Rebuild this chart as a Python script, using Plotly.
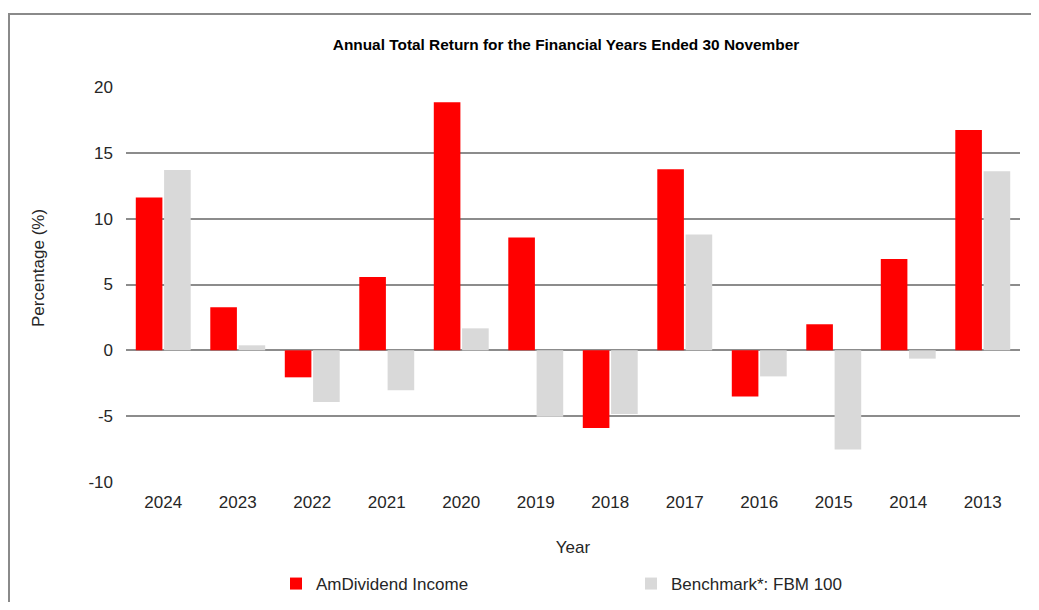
import plotly.graph_objects as go

years = ["2024", "2023", "2022", "2021", "2020", "2019", "2018", "2017", "2016", "2015", "2014", "2013"]
fund = [11.6, 3.27, -2.05, 5.57, 18.84, 8.57, -5.9, 13.76, -3.5, 1.98, 6.94, 16.73]
bench = [13.7, 0.38, -3.93, -3.04, 1.67, -5.05, -4.84, 8.8, -1.98, -7.53, -0.63, 13.61]
y_ticks = [-10, -5, 0, 5, 10, 15, 20]
y_tick_text = ["-10", "-5", "0", "5", "10", "15", "20"]

# page body has an 8px margin; figure sized to fit the 1039x610 window
OFF = 8
W, H = 1039 - 2 * OFF, 610 - 2 * OFF
# plot area in reference-screen pixels
X0, X1, Y0, Y1 = 126, 1020, 87, 482
L, R, T, B = X0 - OFF, W - (X1 - OFF), Y0 - OFF, H - (Y1 - OFF)
pw, ph = X1 - X0, Y1 - Y0

def px_x(x):
    return (x - X0) / pw

def px_y(y):
    return (Y1 - y) / ph

font_main = "Liberation Sans, Arial, sans-serif"
txt_col = "#262626"
grid_col = "#8c8c8c"

fig = go.Figure()
fig.add_trace(go.Bar(x=years, y=fund, name="AmDividend Income",
                     marker=dict(color="#ff0000", line=dict(width=0))))
fig.add_trace(go.Bar(x=years, y=bench, name="Benchmark*: FBM 100",
                     marker=dict(color="#d9d9d9", line=dict(width=0))))

fig.update_layout(
    width=W, height=H,
    margin=dict(l=L, r=R, t=T, b=B, autoexpand=False),
    paper_bgcolor="white", plot_bgcolor="white",
    barmode="group", bargap=0.24, bargroupgap=0.06,
    font=dict(family=font_main, size=17, color=txt_col),
    title=dict(text="<b>Annual Total Return for the Financial Years Ended 30 November</b>",
               x=(566 - OFF) / W, xanchor="center", y=1 - (45 - OFF) / H, yanchor="middle",
               yref="container", xref="container",
               font=dict(family=font_main, size=15.4, color="#000000")),
    xaxis=dict(type="category", showgrid=False, zeroline=False, showline=False,
               ticks="", ticklabelstandoff=8,
               tickfont=dict(size=17, color=txt_col),
               title=dict(text="Year", standoff=30, font=dict(size=17, color=txt_col))),
    yaxis=dict(range=[-10, 20], tickvals=y_ticks, ticktext=y_tick_text,
               showgrid=True, gridcolor=grid_col, gridwidth=1.5,
               zeroline=True, zerolinecolor=grid_col, zerolinewidth=1.5, showline=False,
               ticks="", ticklabelstandoff=12, tickfont=dict(size=17, color=txt_col)),
    showlegend=True,
    legend=dict(orientation="h", x=px_x(276), xanchor="left", y=px_y(584), yanchor="middle",
                entrywidth=310, entrywidthmode="pixels",
                font=dict(size=17, color=txt_col), bgcolor="rgba(0,0,0,0)",
                itemclick=False, itemdoubleclick=False),
    annotations=[dict(text="Percentage (%)", textangle=-90, xref="paper", yref="paper",
                      x=px_x(38), y=px_y(268), xanchor="center", yanchor="middle",
                      showarrow=False, font=dict(size=17, color=txt_col))],
    shapes=[dict(type="rect", xref="paper", yref="paper",
                 x0=px_x(9), x1=px_x(1080), y0=px_y(660), y1=px_y(14),
                 line=dict(color="#8a8a8a", width=2), fillcolor="rgba(0,0,0,0)", layer="below")],
)

fig.write_html("out.html")
